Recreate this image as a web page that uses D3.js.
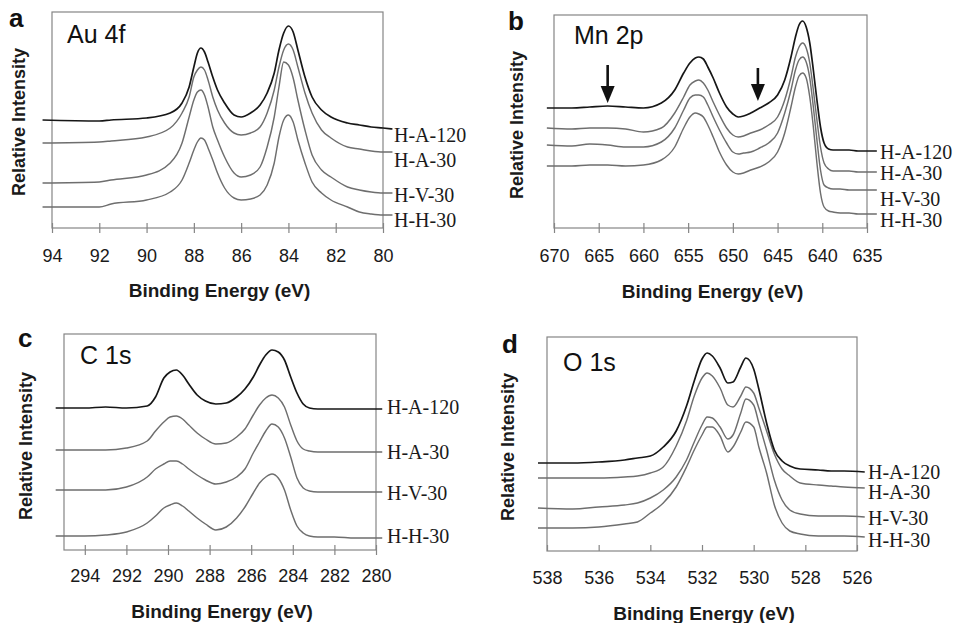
<!DOCTYPE html>
<html>
<head>
<meta charset="utf-8">
<script src="https://cdn.jsdelivr.net/npm/d3@7"></script>
<style>
  body { margin: 0; background: #fff; }
  svg { display: block; }
</style>
</head>
<body>
<svg id="fig" width="957" height="623"></svg>
<script>
// ---- XPS spectra (relative intensity, arbitrary units) ----
const seriesNames = ["H-A-120", "H-A-30", "H-V-30", "H-H-30"];

// Au 4f
const auEnergy = [94.4, 92, 91.5, 90, 89, 88.5, 88.2, 88.0, 87.85, 87.7, 87.55, 87.4, 87.2, 87.0, 86.7, 86.3, 86.0, 85.6, 85.2, 84.9, 84.6, 84.4, 84.2, 84.0, 83.8, 83.6, 83.3, 83.0, 82.6, 82.2, 81.5, 81.0, 80.5, 80.0, 79.6];
const auHA120 = [108, 107, 108, 110, 115, 125, 141, 161, 175, 180, 176, 166, 151, 138, 125, 113, 111, 115, 123, 135, 155, 178, 195, 202, 196, 178, 151, 131, 118, 111, 105, 103, 101, 100, 99];
const auHA30  = [85, 86, 87, 91, 100, 115, 131, 151, 158, 161, 158, 148, 131, 118, 105, 95, 93, 95, 101, 115, 138, 161, 178, 184, 178, 161, 135, 115, 98, 90, 81, 79, 77, 76, 76];
const auHV30  = [45, 46, 48, 53, 65, 85, 111, 128, 136, 138, 133, 121, 101, 88, 71, 55, 51, 53, 61, 81, 111, 141, 166, 163, 150, 128, 98, 73, 58, 51, 41, 38, 36, 35, 35];
const auHH30  = [21, 21, 24, 28, 36, 48, 65, 78, 86, 90, 88, 80, 68, 55, 40, 30, 28, 29, 33, 43, 65, 91, 108, 113, 106, 88, 65, 46, 35, 28, 21, 16, 14, 13, 13];
const auTicks = [94, 92, 90, 88, 86, 84, 82, 80];

// Mn 2p
const mnEnergy = [670.8, 668, 666, 664, 662, 660, 658, 656.5, 655.5, 654.8, 654.2, 653.8, 653.3, 652.8, 652.2, 651.5, 650.7, 650, 649.4, 648.8, 648, 647, 646, 645, 644.2, 643.5, 643, 642.6, 642.2, 641.8, 641.4, 641, 640.6, 640.2, 639.8, 639.3, 638.8, 638, 637, 636, 633.9];
const mnHA120 = [120, 120, 121, 122, 121, 120, 125, 138, 155, 165, 170, 171, 169, 161, 150, 135, 121, 114, 111, 112, 115, 120, 125, 133, 148, 171, 191, 203, 207, 201, 185, 158, 128, 101, 85, 79, 78, 78, 78, 77, 77];
const mnHA30  = [100, 99, 100, 100, 99, 96, 100, 115, 131, 143, 147, 148, 145, 138, 126, 113, 100, 93, 91, 92, 95, 98, 103, 111, 128, 151, 171, 181, 185, 180, 165, 138, 108, 81, 65, 59, 57, 57, 57, 56, 56];
const mnHV30  = [83, 82, 84, 83, 81, 81, 86, 100, 118, 130, 133, 133, 131, 123, 111, 98, 85, 76, 74, 75, 76, 80, 85, 95, 115, 138, 158, 168, 171, 166, 150, 121, 88, 58, 43, 40, 39, 39, 38, 38, 38];
const mnHH30  = [62, 62, 63, 63, 62, 63, 68, 81, 100, 111, 115, 114, 111, 103, 91, 76, 63, 56, 54, 55, 58, 61, 66, 76, 95, 121, 141, 152, 155, 150, 131, 101, 65, 35, 21, 17, 16, 15, 15, 14, 14];
const mnTicks = [670, 665, 660, 655, 650, 645, 640, 635];
// satellite markers (energy, arrow top, arrow tip)
const mnArrowEnergy = [664, 647.2];
const mnArrowTop = [163, 160];
const mnArrowTip = [125, 127];

// C 1s
const cEnergy = [295.4, 294, 293, 292, 291, 290.6, 290.2, 289.9, 289.6, 289.3, 289.0, 288.6, 288.2, 287.7, 287.2, 286.7, 286.3, 285.9, 285.6, 285.3, 285.0, 284.7, 284.4, 284.1, 283.8, 283.5, 283.2, 282.8, 282, 281, 280.5, 279.7];
const cHA120 = [142, 142, 143, 142, 144, 153, 172, 178, 180, 175, 166, 155, 149, 146, 147, 153, 161, 173, 185, 195, 200, 198, 190, 173, 157, 146, 142, 141, 141, 141, 141, 141];
const cHA30  = [100, 100, 100, 102, 109, 119, 128, 133, 134, 131, 125, 117, 111, 106, 107, 113, 121, 135, 145, 152, 155, 152, 143, 125, 109, 101, 99, 98, 98, 98, 98, 98];
const cHV30  = [60, 60, 60, 63, 73, 81, 86, 89, 89, 86, 81, 75, 70, 66, 68, 73, 81, 97, 108, 119, 126, 123, 112, 93, 72, 62, 59, 58, 58, 58, 58, 58];
const cHH30  = [14, 14, 15, 18, 27, 34, 42, 45, 47, 44, 39, 32, 26, 20, 23, 32, 43, 57, 67, 73, 76, 72, 60, 40, 24, 17, 14, 13, 13, 12, 12, 12];
const cTicks = [294, 292, 290, 288, 286, 284, 282, 280];

// O 1s
const oEnergy = [538.35, 537, 536, 535, 534.5, 534, 533.5, 533, 532.6, 532.3, 532.0, 531.8, 531.6, 531.3, 531.0, 530.8, 530.5, 530.3, 530.0, 529.8, 529.5, 529.2, 528.9, 528.6, 528.2, 527.5, 527, 526.5, 525.7];
const oHA120 = [88, 88, 89, 91, 93, 95, 104, 120, 145, 170, 192, 198, 195, 183, 168, 169, 184, 193, 182, 162, 128, 101, 90, 85, 82, 81, 80, 80, 79];
const oHA30  = [73, 73, 73, 74, 75, 78, 84, 105, 130, 155, 173, 178, 175, 163, 146, 144, 155, 164, 158, 143, 120, 97, 82, 75, 68, 66, 65, 64, 63];
const oHV30  = [43, 42, 44, 46, 48, 53, 61, 74, 91, 109, 126, 134, 133, 124, 112, 116, 138, 152, 146, 128, 101, 71, 51, 41, 37, 35, 35, 35, 34];
const oHH30  = [23, 23, 24, 27, 29, 38, 48, 64, 84, 101, 116, 124, 124, 115, 99, 104, 119, 129, 124, 104, 78, 46, 28, 20, 17, 15, 15, 15, 14];
const oTicks = [538, 536, 534, 532, 530, 528, 526];

// ---- panel layout ----
const panels = [
  { letter: "a", element: "Au 4f", energy: auEnergy, series: [auHA120, auHA30, auHV30, auHH30], ticks: auTicks,
    domain: [94, 80], left: 52, right: 383, top: 12, bottom: 228, tickMode: "cross",
    letterPos: [9, 27], elementPos: [67, 43], yTitle: [19, 122], tickLabelY: 262, xTitleY: 297,
    labelX: 394, labelY: [135, 160, 195, 220] },
  { letter: "b", element: "Mn 2p", energy: mnEnergy, series: [mnHA120, mnHA30, mnHV30, mnHH30], ticks: mnTicks,
    domain: [670, 635], left: 554, right: 867, top: 15, bottom: 228, tickMode: "cross",
    letterPos: [508, 30], elementPos: [574, 44], yTitle: [517, 125], tickLabelY: 262, xTitleY: 298,
    labelX: 880, labelY: [152, 173, 199, 220] },
  { letter: "c", element: "C 1s", energy: cEnergy, series: [cHA120, cHA30, cHV30, cHH30], ticks: cTicks,
    domain: [295, 280], left: 64, right: 376, top: 334, bottom: 550, tickMode: "cross",
    letterPos: [18, 347], elementPos: [80, 364], yTitle: [26, 446], tickLabelY: 582, xTitleY: 618,
    labelX: 387, labelY: [407, 452, 493, 536] },
  { letter: "d", element: "O 1s", energy: oEnergy, series: [oHA120, oHA30, oHV30, oHH30], ticks: oTicks,
    domain: [538, 526], left: 547, right: 857, top: 337, bottom: 551, tickMode: "in",
    letterPos: [502, 353], elementPos: [563, 371], yTitle: [508, 447], tickLabelY: 584, xTitleY: 620,
    labelX: 868, labelY: [472, 492, 518, 540] }
];

const SANS = "'Liberation Sans', Arial, Helvetica, sans-serif";
const SERIF = "'Liberation Serif', 'Times New Roman', serif";
const FRAME = "#858585";
const lineColors = ["#161616", "#6e6e6e", "#6e6e6e", "#6e6e6e"];
const lineWidths = [1.7, 1.45, 1.45, 1.45];

const svg = d3.select("#fig");

panels.forEach(p => {
  const g = svg.append("g");
  const x = d3.scaleLinear().domain(p.domain).range([p.left, p.right]);
  const y = d3.scaleLinear().domain([0, p.bottom - p.top]).range([p.bottom, p.top]);

  // frame
  g.append("rect")
    .attr("x", p.left).attr("y", p.top)
    .attr("width", p.right - p.left).attr("height", p.bottom - p.top)
    .attr("fill", "none").attr("stroke", FRAME).attr("stroke-width", 1.2);

  // bottom axis
  const axis = g.append("g")
    .attr("transform", `translate(0,${p.bottom})`)
    .call(d3.axisBottom(x).tickValues(p.ticks).tickSize(5).tickFormat(d3.format("d")));
  axis.select(".domain").remove();
  axis.selectAll(".tick line")
    .attr("stroke", FRAME).attr("stroke-width", 1.2)
    .attr("y1", p.tickMode === "in" ? -6 : -5)
    .attr("y2", p.tickMode === "in" ? 0 : 5);
  axis.selectAll(".tick text")
    .attr("y", p.tickLabelY - p.bottom).attr("dy", 0)
    .attr("fill", "#1a1a1a")
    .style("font-family", SANS).style("font-size", "18px");

  // spectra
  const line = d3.line()
    .x((d, i) => x(p.energy[i]))
    .y(d => y(d))
    .curve(d3.curveMonotoneX);
  p.series.slice().reverse().forEach((s, ri) => {
    const i = p.series.length - 1 - ri;
    g.append("path")
      .datum(s)
      .attr("d", line)
      .attr("fill", "none")
      .attr("stroke", lineColors[i])
      .attr("stroke-width", lineWidths[i])
      .attr("stroke-linejoin", "round");
  });

  // sample labels
  seriesNames.forEach((name, i) => {
    g.append("text")
      .attr("x", p.labelX).attr("y", p.labelY[i]).attr("dy", "0.35em")
      .attr("fill", "#1a1a1a")
      .style("font-family", SERIF).style("font-size", "20px")
      .text(name);
  });

  // panel letter and core level
  g.append("text")
    .attr("x", p.letterPos[0]).attr("y", p.letterPos[1])
    .style("font-family", SANS).style("font-size", "26px").style("font-weight", "bold")
    .attr("fill", "#111").text(p.letter);
  g.append("text")
    .attr("x", p.elementPos[0]).attr("y", p.elementPos[1])
    .style("font-family", SANS).style("font-size", "25px")
    .attr("fill", "#111").text(p.element);

  // axis titles
  g.append("text")
    .attr("x", (p.left + p.right) / 2 + 2).attr("y", p.xTitleY)
    .attr("text-anchor", "middle")
    .style("font-family", SANS).style("font-size", "19px").style("font-weight", "bold")
    .attr("fill", "#1a1a1a").text("Binding Energy (eV)");
  g.append("text")
    .attr("transform", `translate(${p.yTitle[0] + 6},${p.yTitle[1]}) rotate(-90)`)
    .attr("text-anchor", "middle")
    .style("font-family", SANS).style("font-size", "18px").style("font-weight", "bold")
    .attr("fill", "#1a1a1a").text("Relative Intensity");

  // satellite arrows on the Mn 2p panel
  if (p.letter === "b") {
    mnArrowEnergy.forEach((e, k) => {
      const ax = x(e), yTop = y(mnArrowTop[k]), yTip = y(mnArrowTip[k]);
      g.append("line")
        .attr("x1", ax).attr("x2", ax)
        .attr("y1", yTop).attr("y2", yTip - 14)
        .attr("stroke", "#111").attr("stroke-width", 2.6);
      g.append("path")
        .attr("d", `M${ax - 7},${yTip - 17} L${ax + 7},${yTip - 17} L${ax},${yTip} Z`)
        .attr("fill", "#111");
    });
  }
});
</script>
</body>
</html>
